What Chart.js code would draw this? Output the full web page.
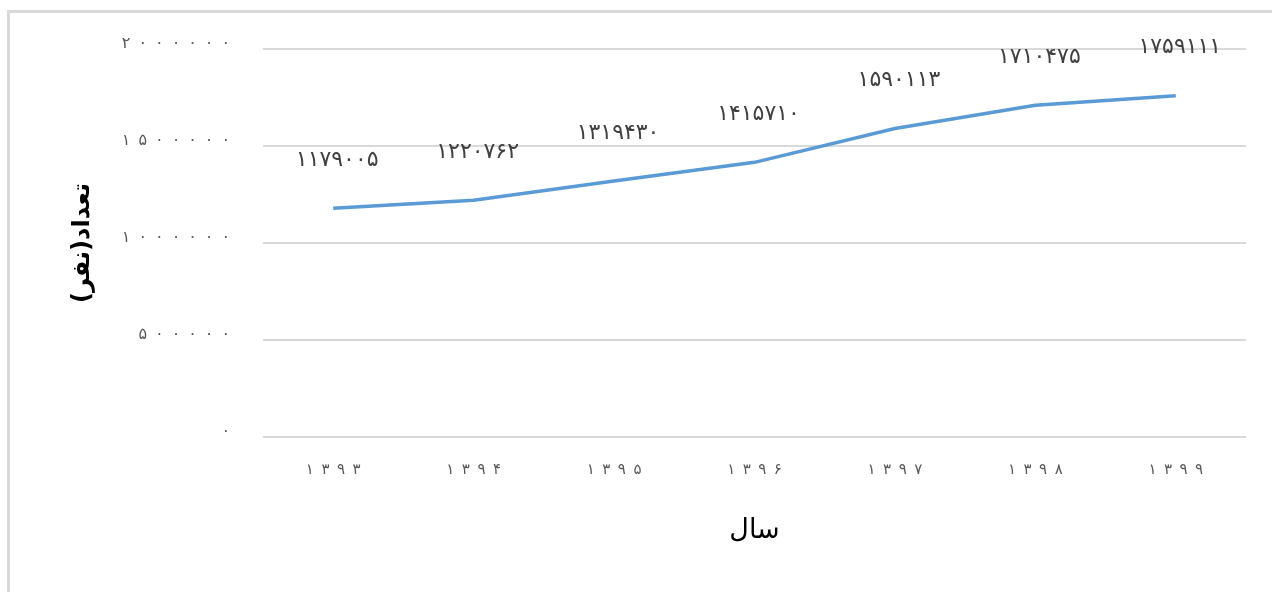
<!DOCTYPE html>
<html>
<head>
<meta charset="utf-8">
<script src="https://cdn.jsdelivr.net/npm/chart.js@4/dist/chart.umd.min.js"></script>
<style>
  body { margin: 0; background: #fff; overflow: hidden; }
  canvas { display: block; }
</style>
</head>
<body>
<canvas id="chart" width="1272" height="592"></canvas>
<script>
// years (solar hijri) and population
const years = [1393, 1394, 1395, 1396, 1397, 1398, 1399];
const population = [1179005, 1220762, 1319430, 1415710, 1590113, 1710475, 1759111];
const yTicks = [0, 500000, 1000000, 1500000, 2000000];

const xTitle = "سال";
const yTitle = "تعداد(نفر)";

function fa(n) {
    return String(n).replace(/\d/g, d => "۰۱۲۳۴۵۶۷۸۹"[d]);
}

// spread digits apart like the original
function spaced(n, sep) {
    return fa(n).split("").join(sep);
}

// grey frame on the left and top edges
const frame = {
    id: "frame",
    beforeDraw(chart) {
        const ctx = chart.ctx;
        ctx.save();
        ctx.fillStyle = "#d9d9d9";
        ctx.fillRect(7, 10, 3, chart.height - 10);
        ctx.fillRect(7, 10, chart.width - 7, 3);
        ctx.restore();
    }
};

// value labels drawn above each point
const valueLabels = {
    id: "valueLabels",
    afterDatasetsDraw(chart) {
        const ctx = chart.ctx;
        const meta = chart.getDatasetMeta(0);
        ctx.save();
        ctx.font = "22px 'DejaVu Sans'";
        ctx.fillStyle = "#404040";
        ctx.textAlign = "center";
        ctx.textBaseline = "middle";
        ctx.letterSpacing = "8px";
        meta.data.forEach((pt, i) => {
            ctx.fillText(fa(population[i]), pt.x + 4, pt.y - 48);
        });
        ctx.restore();
    }
};

new Chart(document.getElementById("chart"), {
    type: "line",
    data: {
        labels: years.map(y => spaced(y, "\u2002")),
        datasets: [{
            data: population,
            borderColor: "#5b9bd5",
            borderWidth: 3.5,
            pointRadius: 0,
            tension: 0,
            fill: false
        }]
    },
    options: {
        responsive: false,
        animation: false,
        layout: { padding: { top: 49, right: 26, bottom: 0, left: 0 } },
        plugins: { legend: { display: false }, tooltip: { enabled: false } },
        scales: {
            x: {
                offset: true,
                grid: { display: false, drawTicks: false },
                border: { display: false },
                ticks: {
                    color: "#595959",
                    font: { family: "DejaVu Sans", size: 15 },
                    padding: 24,
                    maxRotation: 0
                },
                title: {
                    display: true,
                    text: xTitle,
                    color: "#000",
                    font: { family: "DejaVu Sans", size: 27 },
                    padding: { top: 0, bottom: 45 }
                },
                afterFit: s => { s.height = 155; }
            },
            y: {
                min: 0,
                max: 2000000,
                afterBuildTicks: s => { s.ticks = yTicks.map(v => ({ value: v })); },
                grid: { color: "#d9d9d9", lineWidth: 2, drawTicks: false },
                border: { display: false },
                ticks: {
                    color: "#595959",
                    font: { family: "DejaVu Sans", size: 16 },
                    padding: 33,
                    labelOffset: -5,
                    callback: v => spaced(v, "\u2002")
                },
                title: {
                    display: true,
                    text: yTitle,
                    color: "#000",
                    font: { family: "DejaVu Sans", size: 24, weight: "bold" },
                    padding: { top: 68, bottom: 0 }
                },
                afterFit: s => { s.width = 263; }
            }
        }
    },
    plugins: [frame, valueLabels]
});
</script>
</body>
</html>
